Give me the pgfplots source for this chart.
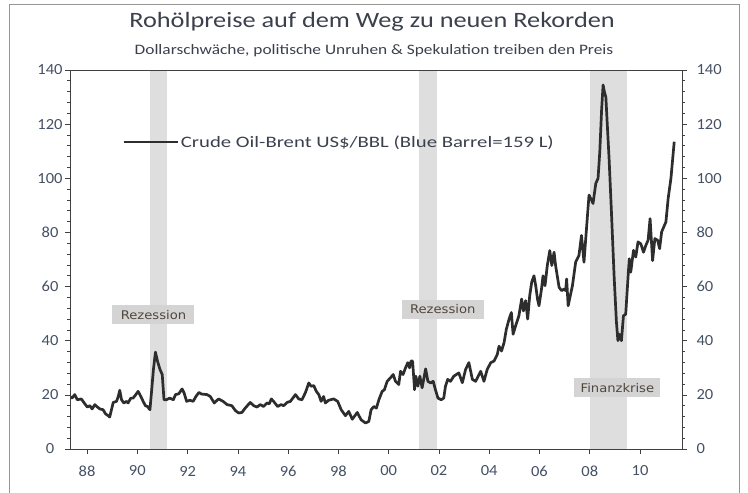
\documentclass[border=0pt]{standalone}
\usepackage{fontspec}
\setmainfont{Carlito}[FakeStretch=1.07]
\newfontfamily\titlefont{Carlito}[FakeStretch=1.2]
\newfontfamily\legfont{Carlito}[FakeStretch=1.3]
\newfontfamily\boxfont{DejaVu Sans}[FakeStretch=1.1]
\usepackage{pgfplots}
\usepackage{pgfplotstable}
\pgfplotsset{compat=1.18}
\definecolor{titlecol}{RGB}{59,64,77}
\definecolor{tickcol}{RGB}{68,80,100}
\definecolor{linecol}{RGB}{45,45,45}
\definecolor{bandcol}{RGB}{222,222,222}
\definecolor{boxcol}{RGB}{212,212,212}
\definecolor{boxtext}{RGB}{80,70,60}
\definecolor{framecol}{RGB}{150,150,150}
\definecolor{axiscol}{RGB}{64,64,64}

\pgfplotstableread{
x y
1987.31 19.4
1987.40 18.8
1987.51 20.1
1987.61 18.2
1987.77 18.5
1987.91 16.7
1988.01 15.5
1988.11 16.0
1988.20 14.8
1988.31 16.4
1988.41 15.5
1988.51 14.8
1988.64 14.5
1988.73 13.0
1988.84 12.3
1988.90 11.8
1988.97 14.5
1989.04 17.2
1989.17 17.6
1989.24 19.4
1989.30 21.7
1989.37 18.2
1989.46 17.0
1989.57 17.6
1989.63 17.0
1989.74 18.8
1989.83 18.8
1989.94 20.1
1990.03 21.3
1990.14 19.4
1990.23 17.6
1990.32 16.0
1990.40 15.7
1990.50 14.5
1990.56 20.7
1990.64 29.4
1990.72 35.8
1990.80 32.5
1990.90 29.4
1990.99 27.5
1991.06 18.2
1991.16 18.2
1991.29 18.8
1991.43 18.2
1991.52 20.1
1991.65 20.4
1991.78 22.2
1991.86 20.7
1991.96 17.6
1992.09 18.0
1992.22 17.6
1992.33 19.4
1992.45 20.9
1992.55 20.3
1992.77 20.1
1992.90 19.4
1993.06 17.0
1993.23 18.5
1993.41 17.6
1993.57 16.4
1993.76 16.0
1993.90 14.2
1994.03 13.3
1994.16 13.5
1994.29 15.1
1994.49 17.2
1994.63 16.0
1994.76 15.5
1994.89 16.4
1995.02 15.7
1995.16 17.0
1995.25 16.7
1995.33 18.5
1995.42 17.6
1995.58 15.7
1995.72 16.4
1995.82 16.0
1995.96 17.2
1996.09 17.6
1996.29 20.1
1996.42 18.5
1996.55 18.2
1996.69 20.9
1996.82 24.4
1996.91 23.2
1997.02 23.4
1997.12 21.3
1997.22 20.1
1997.31 17.6
1997.41 19.4
1997.48 17.0
1997.61 18.0
1997.81 18.5
1997.97 17.6
1998.11 14.5
1998.28 12.3
1998.41 13.9
1998.55 11.0
1998.75 13.5
1998.90 10.8
1999.08 9.6
1999.21 10.2
1999.30 14.5
1999.41 15.7
1999.51 15.1
1999.61 18.2
1999.74 21.3
1999.83 21.9
1999.94 25.0
2000.07 26.3
2000.18 27.5
2000.27 25.0
2000.40 23.8
2000.47 28.7
2000.57 27.5
2000.67 30.0
2000.76 31.9
2000.83 30.0
2000.89 32.5
2000.95 32.5
2001.03 21.9
2001.08 26.9
2001.16 23.2
2001.24 26.9
2001.33 22.6
2001.47 29.6
2001.56 25.0
2001.67 24.4
2001.77 25.0
2001.86 21.9
2001.96 18.8
2002.09 18.2
2002.19 18.8
2002.26 23.2
2002.35 25.7
2002.46 25.0
2002.59 26.9
2002.79 28.1
2002.93 24.5
2003.06 29.4
2003.19 31.9
2003.33 25.7
2003.46 25.0
2003.66 28.7
2003.79 25.0
2003.92 29.4
2004.06 31.9
2004.19 32.5
2004.32 34.9
2004.39 38.0
2004.49 36.2
2004.59 39.3
2004.68 44.2
2004.79 48.0
2004.88 50.4
2004.95 42.4
2005.05 45.5
2005.18 49.2
2005.29 55.4
2005.36 51.0
2005.45 54.8
2005.53 48.0
2005.61 56.6
2005.69 61.6
2005.78 64.0
2005.85 60.3
2005.92 55.4
2005.98 52.9
2006.08 59.1
2006.14 64.0
2006.22 60.3
2006.31 67.8
2006.41 73.3
2006.49 67.8
2006.58 72.7
2006.64 67.8
2006.78 59.7
2006.88 58.5
2006.98 59.1
2007.04 58.5
2007.08 62.8
2007.14 52.9
2007.31 60.3
2007.44 69.1
2007.57 71.5
2007.67 78.9
2007.72 74.0
2007.77 69.0
2007.97 93.8
2008.07 91.9
2008.13 90.7
2008.24 98.1
2008.33 100.0
2008.40 110.0
2008.47 125.0
2008.53 134.5
2008.58 132.0
2008.64 130.0
2008.77 107.0
2008.86 88.0
2008.97 63.6
2009.06 47.0
2009.12 40.0
2009.17 42.4
2009.26 40.0
2009.34 49.2
2009.43 49.8
2009.57 70.3
2009.63 65.3
2009.74 73.4
2009.83 70.9
2009.92 76.5
2010.03 75.8
2010.14 72.7
2010.23 75.2
2010.32 77.1
2010.40 85.1
2010.50 69.6
2010.59 77.7
2010.70 77.1
2010.78 74.0
2010.86 80.2
2011.03 83.9
2011.12 92.6
2011.23 100.0
2011.36 113.5
}\brent

\begin{document}
\begin{tikzpicture}
\useasboundingbox (0,0) rectangle (748bp,493bp);
\draw[framecol, line width=1bp] (9bp,-1bp) -- (9bp,488bp) -- (739bp,488bp) -- (739bp,-1bp);
\node[font=\titlefont\fontsize{22}{24}\selectfont, text=titlecol] at (372bp,471bp) {Rohölpreise auf dem Weg zu neuen Rekorden};
\node[font=\titlefont\fontsize{14.5}{16}\selectfont, text=titlecol] at (374bp,442bp) {Dollarschwäche, politische Unruhen \& Spekulation treiben den Preis};

\begin{axis}[
  at={(70bp,44bp)}, anchor=south west,
  width=612bp, height=379bp, scale only axis,
  xmin=1987.32, xmax=2011.67, ymin=0, ymax=140,
  xtick={1988,1990,...,2010},
  xticklabels={88,90,92,94,96,98,00,02,04,06,08,10},
  minor x tick num=7,
  ytick={0,20,...,140},
  minor y tick num=4,
  tick align=outside,
  tick pos=left,
  axis on top,
  axis line style={axiscol, line width=0.9bp},
  every tick/.style={axiscol, line width=0.7bp},
  major tick length=5bp, minor tick length=3bp,
  tick label style={font=\fontsize{15.5}{17}\selectfont, text=tickcol},
  /pgf/number format/assume math mode=true,
  yticklabel style={anchor=center, xshift=-15bp},
  xticklabel style={anchor=center, yshift=-17bp},
  legend style={at={(axis description cs:0.085,0.81)}, anchor=west, draw=none, fill=none,
    inner sep=0pt, font=\legfont\fontsize{16}{18}\selectfont, text=titlecol},
  legend cell align=left,
  legend image code/.code={\path (0bp,0bp) -- (54bp,0bp);\draw[linecol, line width=2.6bp] (0bp,0bp) -- (48bp,0bp);},
]
\addplot[fill=bandcol, draw=none, forget plot] coordinates {(1990.50,0) (1990.50,140) (1991.17,140) (1991.17,0)};
\addplot[fill=bandcol, draw=none, forget plot] coordinates {(2001.22,0) (2001.22,140) (2001.91,140) (2001.91,0)};
\addplot[fill=bandcol, draw=none, forget plot] coordinates {(2008.00,0) (2008.00,140) (2009.50,140) (2009.50,0)};
\node[fill=boxcol, text=boxtext, font=\boxfont\fontsize{12}{13}\selectfont, minimum width=82bp, minimum height=19.5bp, inner sep=0pt] at (axis cs:1990.64,49.6) {Rezession};
\node[fill=boxcol, text=boxtext, font=\boxfont\fontsize{12}{13}\selectfont, minimum width=82bp, minimum height=19.5bp, inner sep=0pt] at (axis cs:2002.15,51.6) {Rezession};
\node[fill=boxcol, text=boxtext, font=\boxfont\fontsize{12}{13}\selectfont, minimum width=86bp, minimum height=19.5bp, inner sep=0pt] at (axis cs:2009.10,22.7) {Finanzkrise};
\addplot[linecol, line width=2.7bp, line join=round, no markers] table[x=x, y=y] {\brent};
\addlegendentry{Crude Oil-Brent US\$/BBL (Blue Barrel=159 L)}
\end{axis}

\begin{axis}[
  at={(70bp,44bp)}, anchor=south west,
  width=612bp, height=379bp, scale only axis,
  xmin=1987.32, xmax=2011.67, ymin=0, ymax=140,
  hide x axis,
  axis y line*=right,
  ytick={0,20,...,140},
  minor y tick num=4,
  tick align=outside,
  axis line style={axiscol, line width=0.9bp},
  every tick/.style={axiscol, line width=0.7bp},
  major tick length=5bp, minor tick length=3bp,
  tick label style={font=\fontsize{15.5}{17}\selectfont, text=tickcol},
  /pgf/number format/assume math mode=true,
  yticklabel style={anchor=west, xshift=6bp},
]
\addplot[draw=none, forget plot] coordinates {(2000,0)};
\end{axis}
\end{tikzpicture}
\end{document}
